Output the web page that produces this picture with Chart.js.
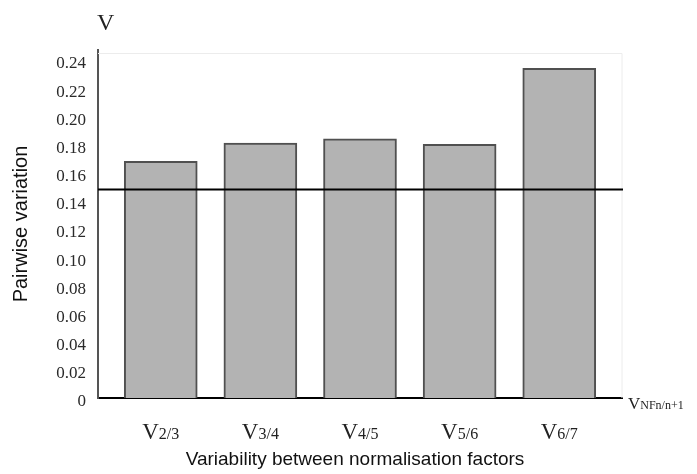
<!DOCTYPE html>
<html>
<head>
<meta charset="utf-8">
<script src="https://cdn.jsdelivr.net/npm/chart.js@4.4.1/dist/chart.umd.min.js"></script>
<style>
  html, body { margin: 0; padding: 0; background: #fff; }
  #wrap { width: 697px; height: 474px; }
</style>
</head>
<body>
<div id="wrap"><canvas id="pairwiseChart" width="697" height="474"></canvas></div>
<script>
// categories (V + subscript) and values
const labelMain = ["V", "V", "V", "V", "V"];
const labelSub = ["2/3", "3/4", "4/5", "5/6", "6/7"];
const pairwiseValues = [0.168, 0.181, 0.184, 0.180, 0.234];
const cutoff = 0.148; // horizontal reference line
const yTickStep = 0.02;
const yMax = 0.247;

const serif = "'Liberation Serif', 'Times New Roman', serif";
const sans = "'Liberation Sans', Arial, sans-serif";

// draws label text, threshold line and faint frame
const extras = {
  id: "extras",
  beforeDatasetsDraw(chart) {
    const { ctx, chartArea: a } = chart;
    ctx.save();
    ctx.strokeStyle = "#ececec";
    ctx.lineWidth = 1;
    ctx.beginPath();
    ctx.moveTo(a.left, a.top + 3.5);
    ctx.lineTo(a.right, a.top + 3.5);
    ctx.lineTo(a.right, a.bottom);
    ctx.stroke();
    ctx.restore();
  },
  afterDatasetsDraw(chart) {
    const { ctx, chartArea: a, scales } = chart;
    const y = scales.y.getPixelForValue(cutoff);
    ctx.save();
    ctx.strokeStyle = "#000";
    ctx.lineWidth = 2;
    ctx.beginPath();
    ctx.moveTo(a.left, y);
    ctx.lineTo(a.right + 1, y);
    ctx.stroke();
    ctx.restore();
  },
  afterDraw(chart) {
    const { ctx, chartArea: a, scales } = chart;
    ctx.save();
    ctx.fillStyle = "#222";
    ctx.textBaseline = "alphabetic";

    // x category labels with subscripts
    labelMain.forEach((m, i) => {
      const cx = scales.x.getPixelForValue(i);
      ctx.font = "23px " + serif;
      const w1 = ctx.measureText(m).width;
      ctx.font = "16px " + serif;
      const w2 = ctx.measureText(labelSub[i]).width;
      const x0 = cx - (w1 + w2) / 2;
      ctx.font = "23px " + serif;
      ctx.textAlign = "left";
      ctx.fillText(m, x0, 439);
      ctx.font = "16px " + serif;
      ctx.fillText(labelSub[i], x0 + w1, 439);
    });

    // axis end labels
    ctx.font = "24px " + serif;
    ctx.textAlign = "left";
    ctx.fillText("V", a.left - 1, 30);
    ctx.font = "17px " + serif;
    ctx.fillText("V", a.right + 6, 409);
    const wv = ctx.measureText("V").width;
    ctx.font = "12px " + serif;
    ctx.fillText("NFn/n+1", a.right + 6 + wv, 409);

    // axis titles
    ctx.fillStyle = "#111";
    ctx.font = "19px " + sans;
    ctx.textAlign = "center";
    ctx.textBaseline = "middle";
    ctx.fillText("Variability between normalisation factors", 355, 460);
    ctx.font = "20px " + sans;
    ctx.translate(21, 224);
    ctx.rotate(-Math.PI / 2);
    ctx.fillText("Pairwise variation", 0, 0);
    ctx.restore();
  }
};

new Chart(document.getElementById("pairwiseChart"), {
  type: "bar",
  data: {
    datasets: [{
      data: pairwiseValues.map((v, i) => ({ x: i, y: v })),
      backgroundColor: "#b3b3b3",
      borderColor: "#505050",
      borderWidth: 2,
      borderSkipped: "bottom",
      barThickness: 73
    }]
  },
  options: {
    responsive: false,
    animation: false,
    layout: { padding: { top: 50, right: 75, left: 0, bottom: 0 } },
    plugins: { legend: { display: false }, tooltip: { enabled: false } },
    scales: {
      x: {
        type: "linear",
        offset: false,
        min: -0.63,
        max: 4.63,
        grid: { display: false },
        border: { display: true, color: "#000", width: 2 },
        ticks: { display: false },
        afterFit: (s) => { s.height = 76; }
      },
      y: {
        min: 0,
        max: yMax,
        grid: { display: false, drawTicks: false },
        border: { display: true, color: "#555", width: 2 },
        ticks: {
          stepSize: yTickStep,
          includeBounds: false,
          padding: 12,
          labelOffset: 4,
          color: "#2a2a2a",
          font: { family: serif, size: 17 },
          callback: (v) => (v === 0 ? "0" : v.toFixed(2))
        },
        afterFit: (s) => { s.width = 98; }
      }
    }
  },
  plugins: [extras]
});
</script>
</body>
</html>
